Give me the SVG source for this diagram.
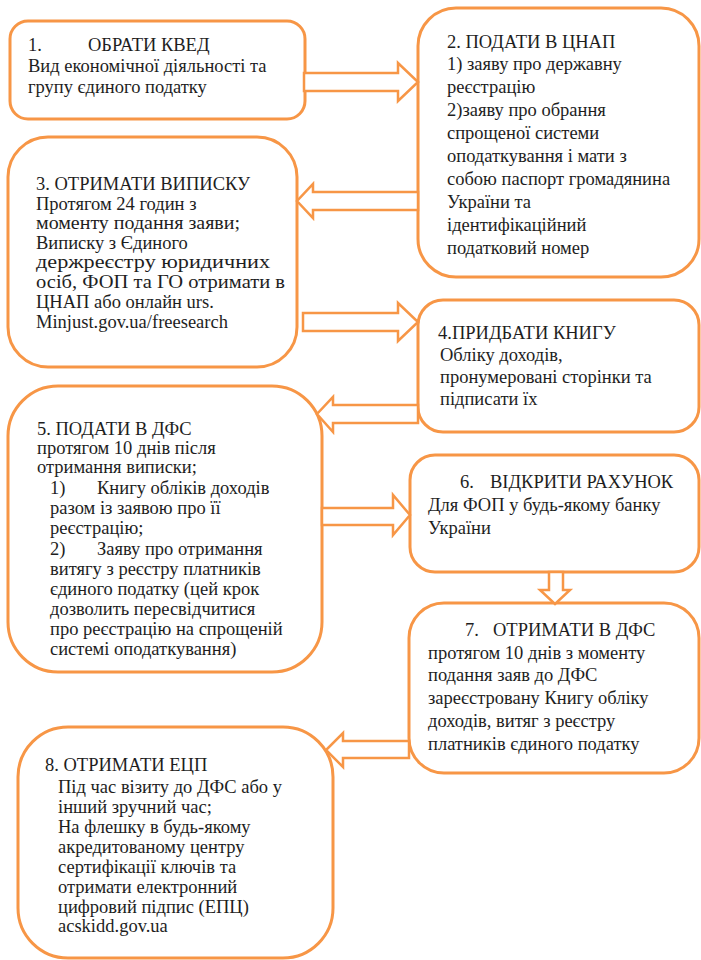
<svg xmlns="http://www.w3.org/2000/svg" width="701" height="960" viewBox="0 0 701 960">
<style>
.box{fill:#fff;stroke:#F79646;stroke-width:3}
.arr{fill:#fff;stroke:#F79646;stroke-width:2.5;stroke-linejoin:miter}
text{font-family:'Liberation Serif','Times New Roman',serif;font-size:18.5px;fill:#1e1e1e}
</style>
<rect width="701" height="960" fill="#fff"/>
<g id="node1">
<rect class="box" x="10" y="21" width="295" height="98" rx="18"/>
<text x="28" y="51">1.</text><text x="88" y="51">ОБРАТИ КВЕД</text>
<text x="28" y="72">Вид економічної діяльності та</text>
<text x="28" y="93">групу єдиного податку</text>
</g>
<g id="node2">
<rect class="box" x="418" y="8" width="281" height="269" rx="38"/>
<text x="447" y="48">2. ПОДАТИ В ЦНАП</text>
<text x="447" y="70">1) заяву про державну</text>
<text x="447" y="93">реєстрацію</text>
<text x="447" y="116">2)заяву про обрання</text>
<text x="447" y="139">спрощеної системи</text>
<text x="447" y="162">оподаткування і мати з</text>
<text x="447" y="185">собою паспорт громадянина</text>
<text x="447" y="208">України та</text>
<text x="447" y="231">ідентифікаційний</text>
<text x="447" y="254">податковий номер</text>
</g>
<g id="node3">
<rect class="box" x="8" y="137" width="289" height="230" rx="40"/>
<text x="36" y="190">3. ОТРИМАТИ ВИПИСКУ</text>
<text x="36" y="210">Протягом 24 годин з</text>
<text x="36" y="229" textLength="204" lengthAdjust="spacingAndGlyphs">моменту подання заяви;</text>
<text x="36" y="249">Виписку з Єдиного</text>
<text x="36" y="268" textLength="234" lengthAdjust="spacingAndGlyphs">держреєстру юридичних</text>
<text x="36" y="288" textLength="249" lengthAdjust="spacingAndGlyphs">осіб, ФОП та ГО отримати в</text>
<text x="36" y="308">ЦНАП або онлайн urs.</text>
<text x="36" y="328">Minjust.gov.ua/freesearch</text>
</g>
<g id="node4">
<rect class="box" x="418" y="300" width="281" height="132" rx="25"/>
<text x="438" y="339">4.ПРИДБАТИ КНИГУ</text>
<text x="440" y="361">Обліку доходів,</text>
<text x="440" y="383">пронумеровані сторінки та</text>
<text x="440" y="405">підписати їх</text>
</g>
<g id="node5">
<rect class="box" x="8" y="386" width="314" height="286" rx="50"/>
<text x="37" y="435">5. ПОДАТИ В ДФС</text>
<text x="37" y="454">протягом 10 днів після</text>
<text x="37" y="473">отримання виписки;</text>
<text x="50" y="494">1)</text><text x="97" y="494">Книгу обліків доходів</text>
<text x="50" y="514">разом із заявою про її</text>
<text x="50" y="534">реєстрацію;</text>
<text x="50" y="555">2)</text><text x="97" y="555">Заяву про отримання</text>
<text x="50" y="575">витягу з реєстру платників</text>
<text x="50" y="595">єдиного податку (цей крок</text>
<text x="50" y="615">дозволить пересвідчитися</text>
<text x="50" y="635">про реєстрацію на спрощеній</text>
<text x="50" y="655">системі оподаткування)</text>
</g>
<g id="node6">
<rect class="box" x="410" y="455" width="289" height="117" rx="25"/>
<text x="460" y="488">6.</text><text x="490" y="488">ВІДКРИТИ РАХУНОК</text>
<text x="428" y="511">Для ФОП у будь-якому банку</text>
<text x="428" y="534">України</text>
</g>
<g id="node7">
<rect class="box" x="409" y="603" width="290" height="170" rx="35"/>
<text x="465" y="636">7.</text><text x="493" y="636">ОТРИМАТИ В ДФС</text>
<text x="428" y="659">протягом 10 днів з моменту</text>
<text x="428" y="681">подання заяв до ДФС</text>
<text x="428" y="704">зареєстровану Книгу обліку</text>
<text x="428" y="727">доходів, витяг з реєстру</text>
<text x="428" y="750">платників єдиного податку</text>
</g>
<g id="node8">
<rect class="box" x="18" y="727" width="315" height="231" rx="50"/>
<text x="45" y="771">8. ОТРИМАТИ ЕЦП</text>
<text x="58" y="793">Під час візиту до ДФС або у</text>
<text x="58" y="813">інший зручний час;</text>
<text x="58" y="833">На флешку в будь-якому</text>
<text x="58" y="853">акредитованому центру</text>
<text x="58" y="873">сертифікації ключів та</text>
<text x="58" y="893">отримати електронний</text>
<text x="58" y="913">цифровий підпис (ЕПЦ)</text>
<text x="58" y="932">acskidd.gov.ua</text>
</g>
<g id="connectors">
<path class="arr" d="M304,73 H398 V63 L418,82 L398,101 V91 H304 Z"/>
<path class="arr" d="M418,192 H313 V184 L297,201 L313,218 V210 H418 Z"/>
<path class="arr" d="M303,313 H398 V303 L418,322 L398,341 V331 H303 Z"/>
<path class="arr" d="M418,405 H333 V397 L317,414 L333,432 V423 H418 Z"/>
<path class="arr" d="M322,508 H393 V495 L410,515 L393,535 V525 H322 Z"/>
<path class="arr" d="M549,572 V590 H540 L555,604 L570,590 H563 V572 Z"/>
<path class="arr" d="M409,741 H343 V733 L326,750 L343,767 V758 H409 Z"/>
</g>
</svg>
